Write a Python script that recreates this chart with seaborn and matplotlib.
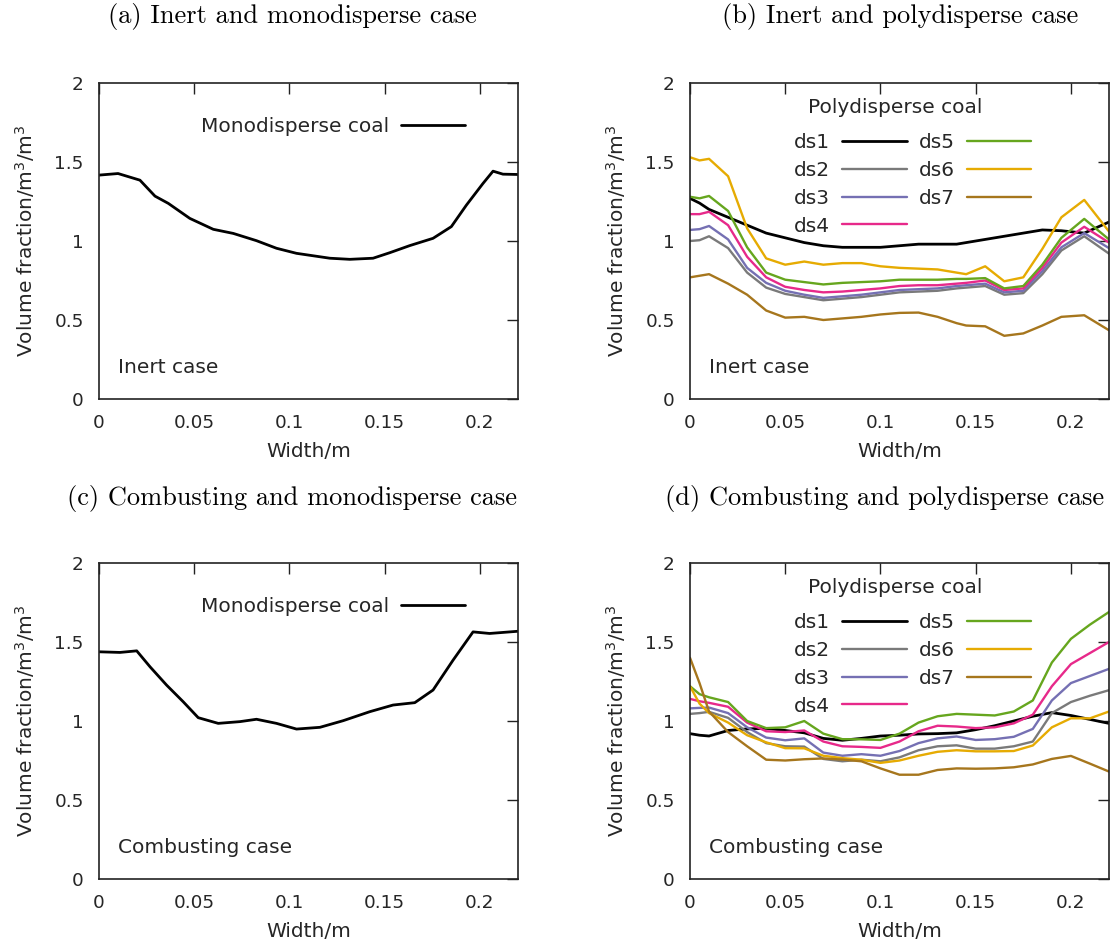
import numpy as np
import pandas as pd
import matplotlib
matplotlib.use("Agg")
import matplotlib.pyplot as plt
import seaborn as sns

# ---------------- data ----------------
# Monodisperse coal, inert case
x_mono_inert = [0.0, 0.010, 0.0215, 0.0294, 0.0364, 0.0477, 0.060, 0.0705, 0.0827, 0.0932,
                0.1037, 0.1212, 0.1317, 0.1439, 0.1527, 0.1632, 0.1754, 0.185, 0.1929,
                0.2016, 0.2069, 0.2121, 0.22]
y_mono_inert = [1.417, 1.427, 1.385, 1.284, 1.238, 1.143, 1.074, 1.048, 1.002, 0.954,
                0.922, 0.891, 0.884, 0.891, 0.926, 0.971, 1.017, 1.091, 1.227,
                1.364, 1.442, 1.423, 1.421]

# Monodisperse coal, combusting case
x_mono_comb = [0.0, 0.011, 0.0198, 0.0268, 0.0355, 0.0442, 0.0521, 0.0626, 0.074, 0.0827,
               0.0932, 0.1037, 0.116, 0.1282, 0.1422, 0.1544, 0.1658, 0.1754, 0.1859,
               0.1964, 0.2051, 0.22]
y_mono_comb = [1.438, 1.434, 1.444, 1.343, 1.227, 1.122, 1.021, 0.985, 0.996, 1.011,
               0.985, 0.949, 0.960, 1.002, 1.059, 1.101, 1.116, 1.196, 1.385,
               1.564, 1.554, 1.568]

# Polydisperse coal, inert case
x_poly_inert = [0.0, 0.005, 0.01, 0.02, 0.03, 0.04, 0.05, 0.06, 0.07, 0.08, 0.09, 0.10,
                0.11, 0.12, 0.13, 0.14, 0.145, 0.155, 0.165, 0.175, 0.185, 0.195, 0.207, 0.22]
ds1_inert = [1.27, 1.24, 1.20, 1.15, 1.10, 1.05, 1.02, 0.99, 0.97, 0.96, 0.96, 0.96,
             0.97, 0.98, 0.98, 0.98, 0.99, 1.01, 1.03, 1.05, 1.07, 1.065, 1.05, 1.12]
ds2_inert = [1.00, 1.005, 1.03, 0.955, 0.80, 0.705, 0.665, 0.645, 0.625, 0.635, 0.645, 0.66,
             0.675, 0.68, 0.685, 0.70, 0.705, 0.715, 0.66, 0.67, 0.79, 0.94, 1.03, 0.92]
ds3_inert = [1.07, 1.075, 1.095, 1.01, 0.83, 0.735, 0.685, 0.66, 0.64, 0.65, 0.66, 0.675,
             0.69, 0.695, 0.70, 0.715, 0.72, 0.73, 0.675, 0.685, 0.81, 0.96, 1.05, 0.955]
ds4_inert = [1.17, 1.17, 1.185, 1.10, 0.90, 0.77, 0.71, 0.69, 0.675, 0.68, 0.69, 0.70,
             0.715, 0.72, 0.72, 0.73, 0.735, 0.75, 0.69, 0.70, 0.83, 0.99, 1.09, 0.99]
ds5_inert = [1.28, 1.27, 1.285, 1.19, 0.96, 0.80, 0.755, 0.74, 0.725, 0.735, 0.74, 0.745,
             0.755, 0.755, 0.755, 0.76, 0.76, 0.765, 0.70, 0.715, 0.85, 1.02, 1.14, 1.01]
ds6_inert = [1.53, 1.51, 1.52, 1.41, 1.08, 0.89, 0.85, 0.87, 0.85, 0.86, 0.86, 0.84,
             0.83, 0.825, 0.82, 0.80, 0.79, 0.84, 0.745, 0.77, 0.95, 1.15, 1.26, 1.06]
ds7_inert = [0.77, 0.78, 0.79, 0.73, 0.66, 0.56, 0.515, 0.52, 0.50, 0.51, 0.52, 0.535,
             0.545, 0.547, 0.52, 0.48, 0.465, 0.46, 0.40, 0.415, 0.465, 0.52, 0.53, 0.435]

# Polydisperse coal, combusting case
x_poly_comb = [0.0, 0.005, 0.01, 0.02, 0.03, 0.04, 0.05, 0.06, 0.07, 0.08, 0.09, 0.10,
               0.11, 0.12, 0.13, 0.14, 0.15, 0.16, 0.17, 0.18, 0.19, 0.20, 0.21, 0.22]
ds1_comb = [0.92, 0.91, 0.905, 0.94, 0.95, 0.953, 0.94, 0.925, 0.89, 0.878, 0.89, 0.905,
            0.91, 0.918, 0.92, 0.925, 0.945, 0.97, 1.00, 1.03, 1.053, 1.035, 1.01, 0.985]
ds2_comb = [1.045, 1.05, 1.058, 1.02, 0.93, 0.86, 0.84, 0.838, 0.76, 0.745, 0.755, 0.745,
            0.77, 0.815, 0.84, 0.846, 0.825, 0.825, 0.84, 0.87, 1.05, 1.12, 1.16, 1.195]
ds3_comb = [1.08, 1.083, 1.085, 1.05, 0.96, 0.895, 0.878, 0.89, 0.80, 0.78, 0.79, 0.78,
            0.81, 0.86, 0.89, 0.902, 0.88, 0.885, 0.90, 0.95, 1.13, 1.24, 1.285, 1.33]
ds4_comb = [1.14, 1.125, 1.115, 1.09, 0.99, 0.935, 0.93, 0.94, 0.87, 0.84, 0.836, 0.83,
            0.87, 0.935, 0.97, 0.965, 0.955, 0.96, 0.985, 1.04, 1.22, 1.36, 1.43, 1.50]
ds5_comb = [1.22, 1.17, 1.15, 1.12, 1.00, 0.955, 0.96, 1.00, 0.92, 0.885, 0.884, 0.88,
            0.92, 0.99, 1.03, 1.045, 1.04, 1.035, 1.06, 1.13, 1.37, 1.52, 1.61, 1.69]
ds6_comb = [1.22, 1.11, 1.05, 0.99, 0.91, 0.865, 0.828, 0.827, 0.78, 0.765, 0.755, 0.735,
            0.75, 0.78, 0.805, 0.815, 0.808, 0.808, 0.81, 0.845, 0.96, 1.017, 1.017, 1.06]
ds7_comb = [1.40, 1.24, 1.06, 0.93, 0.84, 0.755, 0.75, 0.758, 0.763, 0.756, 0.745, 0.70,
            0.66, 0.66, 0.69, 0.70, 0.698, 0.70, 0.707, 0.725, 0.76, 0.779, 0.73, 0.68]

series_names = ["ds1", "ds2", "ds3", "ds4", "ds5", "ds6", "ds7"]
dark2 = sns.color_palette("Dark2", 8).as_hex()
series_colors = ["#000000", "#7a7a7a", dark2[2], dark2[3], dark2[4], dark2[5], dark2[6]]

panel_titles = ["(a) Inert and monodisperse case",
                "(b) Inert and polydisperse case",
                "(c) Combusting and monodisperse case",
                "(d) Combusting and polydisperse case"]
case_labels = ["Inert case", "Inert case", "Combusting case", "Combusting case"]
x_ticks = [0, 0.05, 0.1, 0.15, 0.2]
x_tick_labels = ["0", "0.05", "0.1", "0.15", "0.2"]
y_ticks = [0, 0.5, 1, 1.5, 2]
y_tick_labels = ["0", "0.5", "1", "1.5", "2"]

# ---------------- style ----------------
sns.set_style("white")
plt.rcParams["font.family"] = ["DejaVu Sans"]
plt.rcParams["mathtext.default"] = "regular"
TXT = "#262626"
FS_TICK = 13.3
FS = 14.5

fig = plt.figure(figsize=(11.12, 9.48), dpi=100)
W, H = 1112, 948


def add_axes(left, top, right, bottom):
    return fig.add_axes([left / W, 1 - bottom / H, (right - left) / W, (bottom - top) / H])


ax_a = add_axes(99, 83, 518, 399)
ax_b = add_axes(690, 83, 1109, 399)
ax_c = add_axes(99, 563, 518, 879)
ax_d = add_axes(690, 563, 1109, 879)
axes = [ax_a, ax_b, ax_c, ax_d]


def style_axes(ax, case):
    ax.set_xlim(0, 0.22)
    ax.set_ylim(0, 2)
    ax.set_xticks(x_ticks)
    ax.set_xticklabels(x_tick_labels)
    ax.set_yticks(y_ticks)
    ax.set_yticklabels(y_tick_labels)
    ax.tick_params(direction="in", length=8, width=1.0, top=True, right=True,
                   labelsize=FS_TICK, labelcolor=TXT, color="#222222")
    ax.tick_params(axis="x", pad=11)
    ax.tick_params(axis="y", pad=11)
    for s in ax.spines.values():
        s.set_linewidth(1.2)
        s.set_color("#222222")
    ax.set_xlabel("Width/m", fontsize=FS, color=TXT)
    ax.set_ylabel("Volume fraction/m$^3$/m$^3$", fontsize=FS, color=TXT)
    ax.xaxis.set_label_coords(0.5, -0.135)
    ax.yaxis.set_label_coords(-0.148, 0.5)
    ax.text(0.045, 0.101, case, transform=ax.transAxes, fontsize=FS, color=TXT,
            ha="left", va="center")


def mono_panel(ax, xs, ys, case):
    df = pd.DataFrame({"x": xs, "y": ys})
    sns.lineplot(data=df, x="x", y="y", ax=ax, color="black", linewidth=2.0,
                 label="Monodisperse coal", legend=False)
    style_axes(ax, case)
    ax.legend(loc="center", bbox_to_anchor=(0.559, 0.861), frameon=False,
              markerfirst=False, fontsize=FS, handlelength=3.2, handletextpad=0.55,
              borderpad=0, labelcolor=TXT)


def poly_panel(ax, xs, series, case):
    for name, vals, col in zip(series_names, series, series_colors):
        df = pd.DataFrame({"x": xs, "y": vals})
        sns.lineplot(data=df, x="x", y="y", ax=ax, color=col,
                     linewidth=2.0 if name == "ds1" else 1.7, label=name, legend=False)
    style_axes(ax, case)
    ax.text(0.489, 0.924, "Polydisperse coal", transform=ax.transAxes, fontsize=FS,
            color=TXT, ha="center", va="center")
    ax.legend(loc="upper left", bbox_to_anchor=(0.248, 0.842), frameon=False,
              markerfirst=False, ncol=2, fontsize=FS, handlelength=3.2,
              handletextpad=0.6, columnspacing=0.6, labelspacing=0.44,
              borderpad=0, borderaxespad=0, labelcolor=TXT)


mono_panel(ax_a, x_mono_inert, y_mono_inert, case_labels[0])
poly_panel(ax_b, x_poly_inert,
           [ds1_inert, ds2_inert, ds3_inert, ds4_inert, ds5_inert, ds6_inert, ds7_inert],
           case_labels[1])
mono_panel(ax_c, x_mono_comb, y_mono_comb, case_labels[2])
poly_panel(ax_d, x_poly_comb,
           [ds1_comb, ds2_comb, ds3_comb, ds4_comb, ds5_comb, ds6_comb, ds7_comb],
           case_labels[3])

# sub-figure captions in a Computer Modern face
title_pos = [(292, 17), (900, 17), (292, 498), (885, 498)]
for (px, py), t in zip(title_pos, panel_titles):
    fig.text(px / W, 1 - py / H, t, ha="center", va="center", fontsize=19,
             family="cmr10", color="black")

fig.savefig("out.png", dpi=100)
